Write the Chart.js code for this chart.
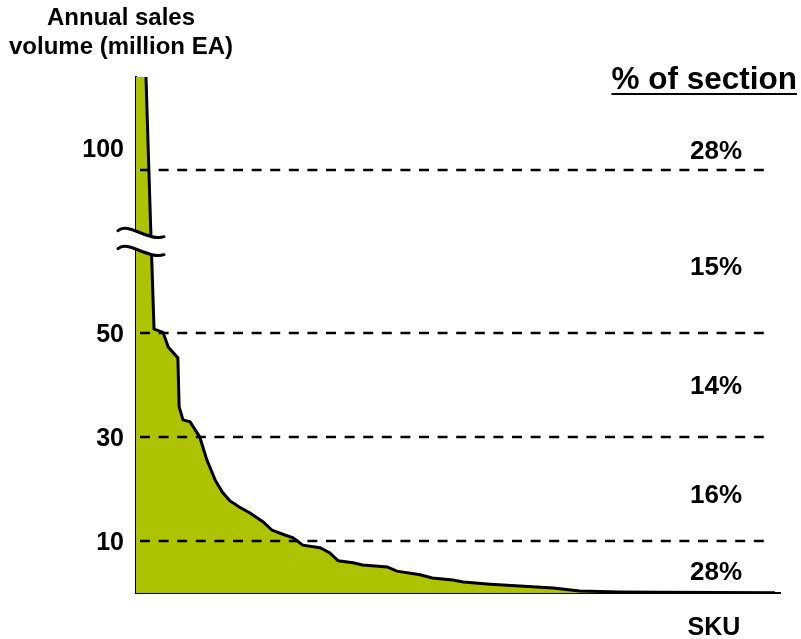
<!DOCTYPE html>
<html>
<head>
<meta charset="utf-8">
<script src="https://cdn.jsdelivr.net/npm/chart.js@4/dist/chart.umd.min.js"></script>
<style>
  body { margin: 0; background: #fff; }
  canvas { display: block; }
</style>
</head>
<body>
<canvas id="chart" width="801" height="639"></canvas>
<script>
// SKUs ranked by annual sales (rank as % of all SKUs) and their volume in million EA
const skuRank = [0, 1.55, 2.0, 2.3, 2.8, 4.2, 5.0, 6.5, 6.7, 7.3, 8.4, 9.9, 11.0, 12.3, 13.4, 14.6,
  16.1, 17.7, 19.7, 21.1, 22.8, 24.4, 25.9, 28.6, 30.1, 31.4, 33.7, 35.2, 39.0, 40.5, 44.1, 46.0,
  49.2, 50.8, 55.0, 59.6, 64.8, 68.9, 75.2, 81.4, 99.2];
const salesVolume = [150, 128.5, 100, 81, 51.2, 50.2, 47.3, 45.2, 35.8, 33.3, 32.9, 30.0, 25.6, 21.7, 19.4, 17.7,
  16.5, 15.4, 13.7, 12.1, 11.3, 10.6, 9.2, 8.7, 7.7, 6.2, 5.8, 5.4, 5.0, 4.2, 3.5, 2.9,
  2.5, 2.1, 1.7, 1.35, 0.95, 0.4, 0.2, 0.13, 0.05];

// reference lines on the volume axis and the share of sales between them
const volumeTicks = [10, 30, 50, 100];
const sectionShares = ["28%", "16%", "14%", "15%", "28%"]; // bottom to top

// axis is broken above 50: the upper part is squeezed
const BREAK_FROM = 50;
const UPPER_SCALE = 0.627;
const BREAK_VALUE = 78;
function toAxis(v) {
  return v <= BREAK_FROM ? v : BREAK_FROM + (v - BREAK_FROM) * UPPER_SCALE;
}

const FONT = "Liberation Sans, Arial, sans-serif";

const decorations = {
  id: "decorations",
  afterDatasetsDraw(chart) {
    const { ctx, scales: { x, y } } = chart;
    ctx.save();

    // dashed reference lines
    ctx.strokeStyle = "#000";
    ctx.lineWidth = 2.3;
    ctx.setLineDash([10, 8.6]);
    volumeTicks.forEach(v => {
      const py = Math.round(y.getPixelForValue(toAxis(v)));
      ctx.beginPath();
      ctx.moveTo(x.left + 4, py);
      ctx.lineTo(766, py);
      ctx.stroke();
    });
    ctx.setLineDash([]);

    // axis break
    const cy = y.getPixelForValue(toAxis(BREAK_VALUE));
    const ax = x.left;
    const wave = (yy) => {
      ctx.moveTo(ax - 18, yy - 2);
      ctx.bezierCurveTo(ax - 8, yy - 11, ax + 12, yy + 9, ax + 28, yy + 4);
    };
    const y1 = cy - 9, y2 = cy + 9;
    ctx.beginPath();
    ctx.moveTo(ax - 18, y1 - 2);
    ctx.bezierCurveTo(ax - 8, y1 - 11, ax + 12, y1 + 9, ax + 28, y1 + 4);
    ctx.lineTo(ax + 28, y2 + 4);
    ctx.bezierCurveTo(ax + 12, y2 + 9, ax - 8, y2 - 11, ax - 18, y2 - 2);
    ctx.closePath();
    ctx.fillStyle = "#fff";
    ctx.fill();
    ctx.lineWidth = 3;
    ctx.lineCap = "round";
    ctx.beginPath(); wave(y1); ctx.stroke();
    ctx.beginPath(); wave(y2); ctx.stroke();

    ctx.fillStyle = "#000";

    // tick labels
    ctx.font = "bold 25px " + FONT;
    ctx.textAlign = "right";
    ctx.textBaseline = "middle";
    volumeTicks.forEach(v => {
      let py = y.getPixelForValue(toAxis(v));
      if (v === 100) py -= 20;
      else py += 2;
      ctx.fillText(String(v), 124, py);
    });

    // section shares
    ctx.font = "bold 26px " + FONT;
    ctx.textAlign = "center";
    const bounds = [0].concat(volumeTicks);
    const nudge = [6, 7, 2, 16, 0];
    sectionShares.forEach((label, i) => {
      let py;
      if (i < bounds.length - 1) {
        py = (y.getPixelForValue(toAxis(bounds[i])) + y.getPixelForValue(toAxis(bounds[i + 1]))) / 2;
      } else {
        py = y.getPixelForValue(toAxis(bounds[i])) - 18;
      }
      ctx.fillText(label, 716, py + nudge[i]);
    });

    // section header, underlined
    ctx.font = "bold 31.5px " + FONT;
    ctx.textAlign = "right";
    ctx.fillText("% of section", 797, 80);
    const w = ctx.measureText("% of section").width;
    ctx.fillRect(797 - w, 93, w, 2);

    // axis titles
    ctx.font = "bold 24px " + FONT;
    ctx.textAlign = "center";
    ctx.fillText("Annual sales", 121, 18);
    ctx.fillText("volume (million EA)", 121, 47);
    ctx.font = "bold 25px " + FONT;
    ctx.fillText("SKU", 714, 628);

    ctx.restore();
  }
};

new Chart(document.getElementById("chart"), {
  type: "line",
  data: {
    datasets: [{
      data: skuRank.map((r, i) => ({ x: r, y: toAxis(salesVolume[i]) })),
      borderColor: "#000",
      borderWidth: 3,
      backgroundColor: "#ADC300",
      fill: "origin",
      pointRadius: 0,
      tension: 0
    }]
  },
  options: {
    responsive: false,
    animation: false,
    devicePixelRatio: 1,
    layout: { padding: { left: 128, top: 77, right: 21, bottom: 38 } },
    plugins: { legend: { display: false }, tooltip: { enabled: false } },
    scales: {
      x: {
        type: "linear",
        min: 0,
        max: 100,
        ticks: { display: false },
        grid: { display: false },
        border: { color: "#000", width: 2 }
      },
      y: {
        min: 0,
        max: toAxis(128.5),
        ticks: { display: false },
        grid: { display: false },
        border: { color: "#000", width: 2 }
      }
    }
  },
  plugins: [decorations]
});
</script>
</body>
</html>
